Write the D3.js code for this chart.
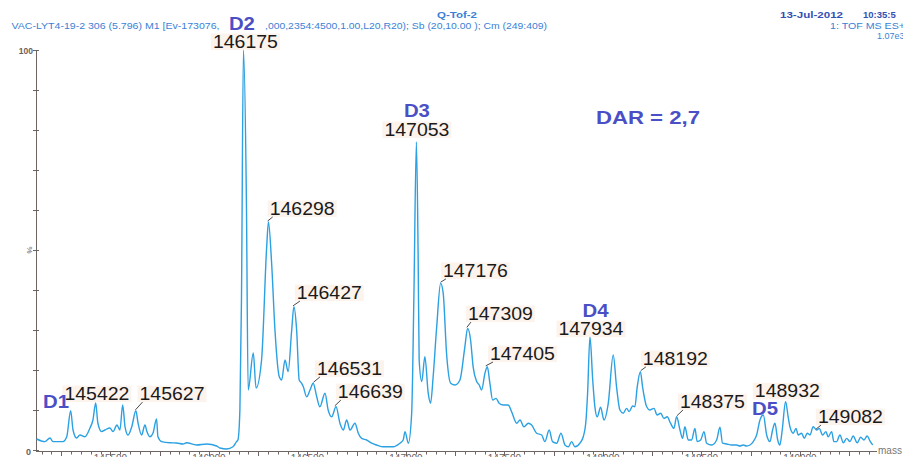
<!DOCTYPE html>
<html><head><meta charset="utf-8">
<script src="https://cdn.jsdelivr.net/npm/d3@7"></script>
<style>body{margin:0;background:#fff}svg{display:block}</style>
</head><body><svg id="c" width="903" height="457"></svg>
<script>
// ---- data ----
const masses = [145125,145167,145193,145208,145259,145278,145298,145310,145328,145345,145370,145396,145411,145425,145436,145455,145472,145497,145513,145533,145548,145562,145574,145589,145608,145629,145640,145658,145675,145685,145700,145716,145734,145741,145760,145802,145836,145868,145887,145937,145988,146039,146056,146090,146122,146140,146147,146157,146165,146175,146190,146199,146225,146239,146267,146293,146302,146318,146335,146357,146369,146386,146402,146420,146431,146445,146458,146470,146479,146496,146513,146529,146547,146563,146589,146605,146623,146645,146665,146682,146699,146716,146741,146758,146775,146800,146826,146851,146885,146935,146969,146986,146995,147012,147029,147040,147053,147062,147067,147080,147096,147113,147125,147138,147156,147176,147189,147206,147227,147249,147274,147299,147313,147328,147341,147359,147372,147384,147401,147413,147426,147440,147457,147473,147494,147519,147536,147562,147579,147599,147621,147638,147663,147689,147705,147727,147744,147765,147787,147807,147824,147841,147858,147883,147900,147914,147922,147934,147948,147959,147971,147988,148005,148027,148052,148069,148086,148103,148120,148133,148151,148162,148174,148190,148201,148222,148238,148259,148275,148293,148309,148326,148343,148360,148374,148391,148404,148416,148433,148450,148467,148478,148496,148513,148526,148552,148577,148594,148607,148628,148653,148678,148695,148712,148729,148746,148763,148780,148797,148814,148831,148848,148861,148873,148887,148898,148910,148927,148940,148949,148966,148980,148991,149008,149022,149037,149051,149067,149085,149098,149115,149132,149143,149161,149172,149186,149203,149220,149237,149254,149270,149291,149308,149325,149341,149355,149369];
const intensities = [2.75,2.1,3.0,2.1,2.1,3.3,9.8,5.0,3.0,3.75,3.3,5.5,7.5,11.75,6.75,4.6,5.0,5.5,4.6,6.25,5.0,11.25,5.8,3.75,5.8,9.8,6.75,3.75,6.25,4.6,3.3,4.25,7.75,3.3,2.1,1.8,1.75,1.5,1.8,1.25,1.5,1.0,0.5,0.25,0.8,2.1,2.5,10,37.5,100,62.5,15,24.25,15.5,22.5,50.8,57,46.75,30,18.3,17.5,22.5,19.6,30,35.8,30,17.5,16.7,15.8,13.3,15,16.7,13.3,10.8,14.2,10,8.3,10.8,6.7,5,7.5,5,6.7,4.2,2.9,2.5,1.7,1.25,0.8,0.8,1.7,2.5,4.6,1.7,9.2,37.5,77,47.5,22.5,17.1,23.3,14.2,11.7,18.3,30.8,41.7,39.2,24.2,16.7,16.25,17.5,25.8,30.4,27.5,20.8,17.1,16.25,15,19.2,20.8,16.7,12.5,12.9,11.7,11.25,11.25,9.6,6.7,7.5,5.8,6.7,6.25,4.2,3.75,2.1,5,2.1,1.7,4.2,1.25,0.8,2.1,0.8,1.7,3.3,7.5,14.2,28.3,17.5,10.8,8.3,10.7,7.5,11.7,23.75,15.8,10,9.2,10.4,9.6,11,10.8,15.8,19.6,15.8,10.8,10,10.4,8.75,9.2,7.9,8.3,6.7,5.4,8.3,5,2.9,5.8,2.5,2.5,5.4,2.1,2.5,4.6,1.7,1.25,2.5,5.7,1.7,1.5,1.25,1.25,1.0,1.25,1.0,1.25,2.1,3.75,7.5,8.75,3.75,2.1,5,6.7,2.5,1.25,5,12.1,8.3,5.8,4.2,5.4,3.75,4.2,2.9,4.2,3.75,5.8,5,5.4,3.75,4.6,3.3,4.6,2.1,2.1,3.75,1.8,2.9,2.1,3.5,1.8,3.2,2.5,3.5,2.3,1.25];

const xTickLabels = [145500,146000,146500,147000,147500,148000,148500,149000];
const peakLabels = [145422,145627,146175,146298,146427,146531,146639,147053,147176,147309,147405,147934,148192,148375,148932,149082];
const groupLabels = ["D1","D2","D3","D4","D5"];
const groupMasses = [145298,146175,147053,147934,148814];
const headerLeft = "VAC-LYT4-19-2  306 (5.796) M1 [Ev-173076,";
const headerMid = ",000,2354:4500,1.00,L20,R20); Sb (20,10.00 ); Cm (249:409)";
const headerInstr = "Q-Tof-2";
const headerDate = "13-Jul-2012";
const headerTime = "10:35:5";
const headerMode = "1: TOF MS ES+";
const headerScale = "1.07e3";
const darText = "DAR = 2,7";

// ---- layout (positions only) ----
const peakLayout = [ // dx, dy of text relative to peak, anchor, leader
  [-30.7,-3,"start",0],[4,-10.7,"start",1],[2,-2,"middle",0],[2,-7,"start",1],
  [3.8,-7.7,"start",1],[3.4,-8.3,"start",1],[3,-8.7,"start",1],[0.5,-6,"middle",0],
  [2.3,-6.3,"start",1],[1.1,-8.3,"start",1],[4.2,-6.7,"start",1],[1,-1.7,"middle",0],
  [2.1,-6.7,"start",1],[3.1,-8.7,"start",1],[0.8,-4.2,"middle",0],[1.8,-6.8,"start",1]
];
const groupLayout = [[-14.7,-2.7],[-1.5,-20.5],[0.5,-25],[5.5,-19.5],[1.7,-0.5]];

const svg = d3.select("#c");
const x = d3.scaleLinear().domain([145122,149386]).range([36,876]);
const y = d3.scaleLinear().domain([0,100]).range([450,50]);
const axisCol = "#6e6462", lineCol = "#2ba0e2", dCol = "#4b4fc6", hdrCol = "#3b7fd6";

function peakPct(m){
  let best = 0;
  masses.forEach((v,i)=>{ if(Math.abs(v-m)<=12 && intensities[i]>best) best=intensities[i]; });
  return best;
}

// header
const hdr = svg.append("g").attr("font-family","Liberation Sans, Arial, sans-serif").attr("fill",hdrCol);
hdr.append("text").attr("x",11.5).attr("y",29).attr("font-size",9).attr("textLength",208).attr("lengthAdjust","spacingAndGlyphs").text(headerLeft);
hdr.append("text").attr("x",265).attr("y",29).attr("font-size",9).attr("textLength",282).attr("lengthAdjust","spacingAndGlyphs").text(headerMid);
hdr.append("text").attr("x",437).attr("y",18).attr("font-size",9).attr("font-weight","bold").attr("textLength",40).attr("lengthAdjust","spacingAndGlyphs").text(headerInstr);
hdr.append("text").attr("x",780).attr("y",18).attr("font-size",9.5).attr("font-weight","bold").attr("fill","#3450b4").attr("textLength",63).attr("lengthAdjust","spacingAndGlyphs").text(headerDate);
hdr.append("text").attr("x",863).attr("y",18).attr("font-size",9.5).attr("font-weight","bold").attr("fill","#3450b4").text(headerTime);
hdr.append("text").attr("x",830).attr("y",29).attr("font-size",9).attr("textLength",75).attr("lengthAdjust","spacingAndGlyphs").text(headerMode);
hdr.append("text").attr("x",877).attr("y",39).attr("font-size",9).text(headerScale);

// axes
const ax = svg.append("g").attr("stroke",axisCol).attr("stroke-width",1);
ax.append("line").attr("x1",36.5).attr("x2",36.5).attr("y1",y(100)).attr("y2",451);
ax.append("line").attr("x1",36).attr("x2",877).attr("y1",451.5).attr("y2",451.5);
d3.range(0,101,10).forEach(v=>{
  ax.append("line").attr("x1",33).attr("x2",39).attr("y1",Math.round(y(v))+0.5).attr("y2",Math.round(y(v))+0.5);
});
d3.range(145150,149400,50).forEach(v=>{
  if (x(v)>876.5) return;
  const big = v%250===0;
  ax.append("line").attr("x1",Math.round(x(v))+0.5).attr("x2",Math.round(x(v))+0.5)
    .attr("y1",451.5).attr("y2",big?456:454.5);
});
const tl = svg.append("g").attr("font-family","Liberation Sans, Arial, sans-serif").attr("fill","#6a6060");
tl.append("text").attr("x",33).attr("y",54).attr("text-anchor","end").attr("font-size",8.5).attr("font-weight","bold").text("100");
tl.append("text").attr("x",31).attr("y",455).attr("text-anchor","end").attr("font-size",9).attr("font-weight","bold").text("0");
tl.append("text").attr("transform",`translate(27,${y(50)}) rotate(90)`).attr("text-anchor","middle").attr("font-size",8).text("%");
xTickLabels.forEach(v=>{
  tl.append("text").attr("x",x(v)).attr("y",461.5).attr("text-anchor","middle").attr("font-size",10).text(v);
});
tl.append("text").attr("x",878).attr("y",454).attr("font-size",10).attr("fill","#777").text("mass");

// spectrum
const pts = masses.map((m,i)=>[m,intensities[i]]);
svg.append("path").datum(pts)
  .attr("d", d3.line().x(d=>x(d[0])).y(d=>y(d[1])).curve(d3.curveMonotoneX))
  .attr("fill","none").attr("stroke",lineCol).attr("stroke-width",1.4).attr("stroke-linejoin","round");

// peak labels
const lab = svg.append("g").attr("font-family","Liberation Sans, Arial, sans-serif");
peakLabels.forEach((m,i)=>{
  const [dx,dy,anchor,leader] = peakLayout[i];
  const px = x(m), py = y(peakPct(m));
  const tx = px+dx, ty = py+dy;
  const w = 65;
  const left = anchor==="middle" ? tx-w/2 : tx;
  lab.append("rect").attr("x",left-2).attr("y",ty-14.5).attr("width",w+4).attr("height",16.5)
    .attr("fill","#fdf0e8").attr("opacity",0.8);
  if (leader) {
    lab.append("line").attr("x1",px).attr("y1",py-1).attr("x2",left+3).attr("y2",ty+2)
      .attr("stroke","#333").attr("stroke-width",0.9);
  }
  lab.append("text").attr("x",tx).attr("y",ty).attr("text-anchor",anchor)
    .attr("font-size",18.5).attr("fill","#1a1a1a")
    .attr("textLength",w).attr("lengthAdjust","spacingAndGlyphs").text(m);
});
groupLabels.forEach((g,i)=>{
  const [dx,dy] = groupLayout[i];
  const m = groupMasses[i];
  lab.append("text").attr("x",x(m)+dx).attr("y",y(peakPct(m))+dy).attr("text-anchor","middle")
    .attr("font-size",18).attr("font-weight","bold").attr("fill",dCol)
    .attr("textLength",26).attr("lengthAdjust","spacingAndGlyphs").text(g);
});
lab.append("text").attr("x",596).attr("y",124).attr("font-size",18).attr("font-weight","bold")
  .attr("fill",dCol).attr("textLength",104).attr("lengthAdjust","spacingAndGlyphs").text(darText);
</script></body></html>
